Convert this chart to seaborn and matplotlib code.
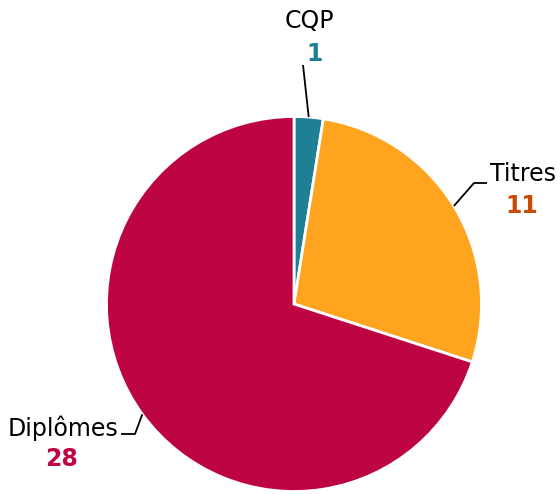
import numpy as np
import matplotlib
matplotlib.use("Agg")
import matplotlib.pyplot as plt
import seaborn as sns

# data
categories = ["CQP", "Titres", "Diplômes"]
counts = [1, 11, 28]
slice_colors = ["#1F7F95", "#FFA41F", "#BD0544"]
value_colors = ["#1F7F95", "#C94C06", "#BD0544"]

sns.set_theme(style="white")
plt.rcParams['font.family'] = ['DejaVu Sans']

W, H = 560, 494
fig = plt.figure(figsize=(W / 100, H / 100), dpi=100)
ax = fig.add_axes([0, 0, 1, 1])
ax.set_xlim(0, W)
ax.set_ylim(0, H)
ax.set_aspect("equal")
ax.axis("off")

cx, cy, r = 294, H - 304, 187.5
wedges, _ = ax.pie(counts, colors=slice_colors, startangle=90, counterclock=False,
                   center=(cx, cy), radius=r, frame=True,
                   wedgeprops=dict(edgecolor="white", linewidth=2))
ax.set_xlim(0, W)
ax.set_ylim(0, H)
ax.axis("off")

# label layout (pixel coords from top-left): name pos, value pos, connector path
layout = [
    dict(name=(309, 21), val=(315, 54), path=[(303, 65)], ha="center"),
    dict(name=(523, 174), val=(522, 206), path=[(474, 183), (487, 183)], ha="center"),
    dict(name=(63, 428), val=(62, 459), path=[(135, 434), (121, 434)], ha="center"),
]

for w, cat, n, vc, lay in zip(wedges, categories, counts, value_colors, layout):
    mid = np.deg2rad((w.theta1 + w.theta2) / 2)
    ax0 = cx + r * np.cos(mid)
    ay0 = cy + r * np.sin(mid)
    xs = [ax0] + [p[0] for p in lay["path"]]
    ys = [ay0] + [H - p[1] for p in lay["path"]]
    ax.plot(xs, ys, color="black", lw=1.3, solid_capstyle="butt")
    ax.text(lay["name"][0], H - lay["name"][1], cat, ha="center", va="center",
            fontsize=17, color="black")
    ax.text(lay["val"][0], H - lay["val"][1], str(n), ha="center", va="center",
            fontsize=17, fontweight="bold", color=vc)

fig.savefig("out.png", dpi=100)
